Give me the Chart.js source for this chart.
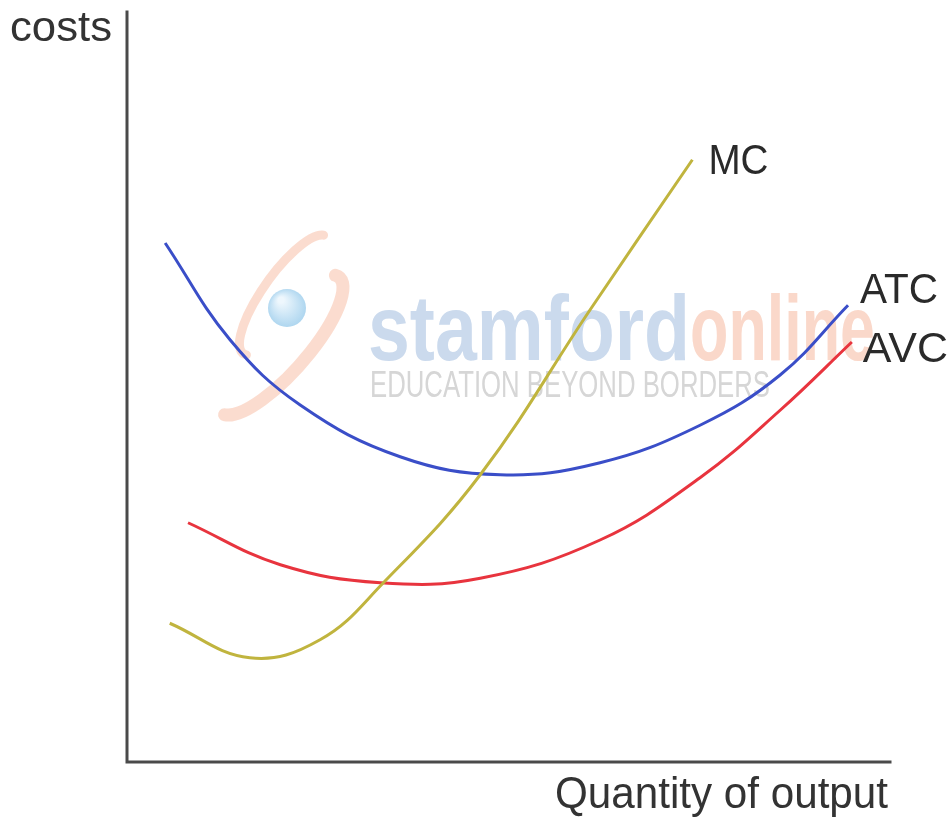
<!DOCTYPE html>
<html>
<head>
<meta charset="utf-8">
<script src="https://cdn.jsdelivr.net/npm/chart.js@4.4.1/dist/chart.umd.min.js"></script>
<style>
  html, body { margin: 0; padding: 0; background: #ffffff; }
  #wrap { width: 952px; height: 819px; position: relative; }
</style>
</head>
<body>
<div id="wrap"><canvas id="c" width="952" height="819"></canvas></div>
<script>
// ---- Data (abstract units: quantity 0-100, costs 0-100) ----
const axisLabels = { y: "costs", x: "Quantity of output" };
const seriesNames = ["MC", "ATC", "AVC"];

const mcQty   = [5.6, 16.1, 25.3, 33.6, 46.3, 60.7, 74.1];
const mcCost  = [18.5, 13.9, 16.3, 23.9, 38.3, 60.3, 80.3];

const atcQty  = [5.0, 13.5, 22.7, 35.8, 48.9, 62.0, 75.1, 85.6, 94.5];
const atcCost = [69.2, 56.3, 47.6, 40.7, 38.3, 39.9, 44.9, 51.6, 60.9];

const avcQty  = [8.0, 20.1, 33.2, 46.3, 62.0, 75.1, 85.6, 95.0];
const avcCost = [31.9, 26.3, 23.9, 24.5, 29.6, 37.9, 46.9, 56.0];

function pts(xs, ys) { return xs.map((x, i) => ({ x: x, y: ys[i] })); }

const FONT = '"Liberation Sans", Arial, sans-serif';

function fitText(ctx, text, left, baseline, size, width, color, weight) {
  ctx.save();
  ctx.font = (weight || "normal") + " " + size + "px " + FONT;
  const w = ctx.measureText(text).width;
  ctx.translate(left, baseline);
  ctx.scale(width / w, 1);
  ctx.fillStyle = color;
  ctx.textBaseline = "alphabetic";
  ctx.textAlign = "left";
  ctx.fillText(text, 0, 0);
  ctx.restore();
}

const watermark = {
  id: "watermark",
  beforeDatasetsDraw(chart) {
    const ctx = chart.ctx;
    ctx.save();
    ctx.strokeStyle = "rgba(249,205,186,0.7)";
    ctx.lineCap = "round";
    // S-shaped swoosh: two arcs
    ctx.lineWidth = 9;
    ctx.beginPath();
    ctx.ellipse(285, 295, 72, 22, -0.95, Math.PI * 0.95, Math.PI * 1.95);
    ctx.stroke();
    ctx.lineWidth = 13;
    ctx.beginPath();
    ctx.ellipse(280, 345, 90, 28, -0.85, -Math.PI * 0.05, Math.PI * 0.95);
    ctx.stroke();
    const g = ctx.createRadialGradient(281, 300, 3, 287, 308, 20);
    g.addColorStop(0, "#eef7fd");
    g.addColorStop(1, "#acd5ef");
    ctx.fillStyle = g;
    ctx.beginPath();
    ctx.arc(287, 308, 19, 0, Math.PI * 2);
    ctx.fill();
    ctx.restore();
    fitText(ctx, "stamford", 368, 360, 92, 322, "#cbdaed", "bold");
    fitText(ctx, "online", 690, 360, 92, 185, "#fad8ca", "bold");
    fitText(ctx, "EDUCATION BEYOND BORDERS", 370, 397, 36, 400, "#d6d6d6", "normal");
  }
};

const axesAndLabels = {
  id: "axesAndLabels",
  afterDatasetsDraw(chart) {
    const ctx = chart.ctx;
    const a = chart.chartArea;
    ctx.save();
    ctx.strokeStyle = "#4a4a4a";
    ctx.lineWidth = 3;
    ctx.lineCap = "square";
    ctx.beginPath();
    ctx.moveTo(a.left, a.top);
    ctx.lineTo(a.left, a.bottom);
    ctx.lineTo(a.right, a.bottom);
    ctx.stroke();
    ctx.restore();
    fitText(ctx, axisLabels.y, 10, 41, 42, 102, "#333333");
    fitText(ctx, axisLabels.x, 555, 808, 44, 333, "#333333");
    const offs = { "MC": [16, 14, 60], "ATC": [12, -2, 78], "AVC": [11, 20, 85] };
    chart.data.datasets.forEach((ds, i) => {
      const meta = chart.getDatasetMeta(i);
      const last = meta.data[meta.data.length - 1];
      const o = offs[ds.label];
      fitText(ctx, ds.label, last.x + o[0], last.y + o[1], 42, o[2], "#2a2a2a");
    });
  }
};

new Chart(document.getElementById("c"), {
  type: "scatter",
  data: {
    datasets: [
      { label: seriesNames[0], data: pts(mcQty, mcCost), borderColor: "rgb(192,180,62)" },
      { label: seriesNames[1], data: pts(atcQty, atcCost), borderColor: "rgb(58,78,200)" },
      { label: seriesNames[2], data: pts(avcQty, avcCost), borderColor: "rgb(232,52,62)" }
    ].map(d => Object.assign(d, {
      showLine: true, pointRadius: 0, borderWidth: 3,
      tension: 0.4, fill: false
    }))
  },
  options: {
    responsive: false,
    animation: false,
    layout: { padding: { left: 127, right: 62, top: 12, bottom: 57 } },
    plugins: { legend: { display: false }, tooltip: { enabled: false } },
    scales: {
      x: { type: "linear", min: 0, max: 100, display: false },
      y: { type: "linear", min: 0, max: 100, display: false }
    }
  },
  plugins: [watermark, axesAndLabels]
});
</script>
</body>
</html>
